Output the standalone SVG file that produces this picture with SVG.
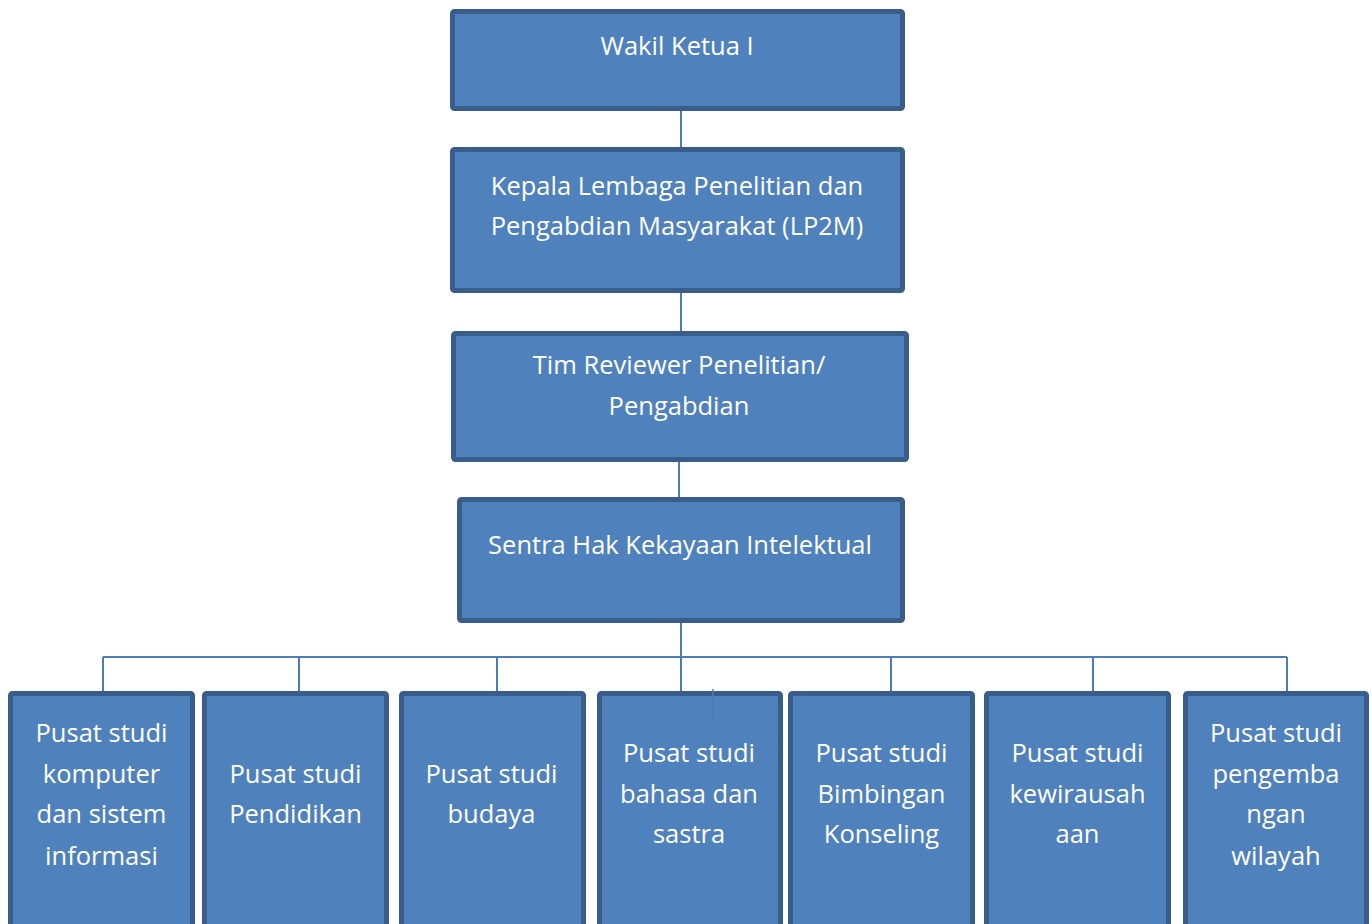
<svg xmlns="http://www.w3.org/2000/svg" width="1372" height="924" viewBox="0 0 1372 924">
<style>
.box{fill:#4F81BD;stroke:#385D8A;stroke-width:5}
.t{font-family:"Open Sans","Liberation Sans",sans-serif;font-size:25.5px;fill:#FFFFFF;text-anchor:middle}
.c{stroke:#4A7EBB;stroke-width:2;fill:none}
.s{stroke:#4A7EBB;stroke-width:1.5;fill:none}
</style>
<rect width="1372" height="924" fill="#FFFFFF"/>
<g id="connectors">
<line class="c" x1="681" y1="111" x2="681" y2="147"/>
<line class="c" x1="681" y1="293" x2="681" y2="331"/>
<line class="c" x1="679" y1="462" x2="679" y2="497"/>
<line class="c" x1="681" y1="623" x2="681" y2="691"/>
<line class="c" x1="103" y1="657" x2="1287" y2="657"/>
<line class="c" x1="103" y1="657" x2="103" y2="691"/>
<line class="c" x1="299" y1="657" x2="299" y2="691"/>
<line class="c" x1="497" y1="657" x2="497" y2="691"/>
<line class="c" x1="891" y1="657" x2="891" y2="691"/>
<line class="c" x1="1093" y1="657" x2="1093" y2="691"/>
<line class="c" x1="1287" y1="657" x2="1287" y2="691"/>
</g>
<g id="n1"><rect class="box" x="452.5" y="11.5" width="450" height="97" rx="2"/>
<text class="t" x="677" y="55">Wakil Ketua I</text></g>
<g id="n2"><rect class="box" x="452.5" y="149.5" width="450" height="141" rx="2"/>
<text class="t" x="677" y="195">Kepala Lembaga Penelitian dan</text>
<text class="t" x="677" y="235">Pengabdian Masyarakat (LP2M)</text></g>
<g id="n3"><rect class="box" x="453.5" y="333.5" width="453" height="126" rx="2"/>
<text class="t" x="679" y="374">Tim Reviewer Penelitian/</text>
<text class="t" x="679" y="415">Pengabdian</text></g>
<g id="n4"><rect class="box" x="459.5" y="499.5" width="443" height="121" rx="2"/>
<text class="t" x="680" y="554">Sentra Hak Kekayaan Intelektual</text></g>
<g id="p1"><rect class="box" x="10.5" y="693.5" width="182" height="240" rx="2"/>
<text class="t" x="101.5" y="742">Pusat studi</text>
<text class="t" x="101.5" y="783">komputer</text>
<text class="t" x="101.5" y="823">dan sistem</text>
<text class="t" x="101.5" y="865">informasi</text></g>
<g id="p2"><rect class="box" x="204.5" y="693.5" width="182" height="240" rx="2"/>
<text class="t" x="295.5" y="783">Pusat studi</text>
<text class="t" x="295.5" y="823">Pendidikan</text></g>
<g id="p3"><rect class="box" x="401.5" y="693.5" width="182" height="240" rx="2"/>
<text class="t" x="491.5" y="783">Pusat studi</text>
<text class="t" x="491.5" y="823">budaya</text></g>
<g id="p4"><rect class="box" x="599.5" y="693.5" width="181" height="240" rx="2"/>
<text class="t" x="689" y="762">Pusat studi</text>
<text class="t" x="689" y="803">bahasa dan</text>
<text class="t" x="689" y="843">sastra</text></g>
<g id="p5"><rect class="box" x="790.5" y="693.5" width="182" height="240" rx="2"/>
<text class="t" x="881.5" y="762">Pusat studi</text>
<text class="t" x="881.5" y="803">Bimbingan</text>
<text class="t" x="881.5" y="843">Konseling</text></g>
<g id="p6"><rect class="box" x="986.5" y="693.5" width="182" height="240" rx="2"/>
<text class="t" x="1077.5" y="762">Pusat studi</text>
<text class="t" x="1077.5" y="803">kewirausah</text>
<text class="t" x="1077.5" y="843">aan</text></g>
<g id="p7"><rect class="box" x="1185.5" y="693.5" width="181" height="240" rx="2"/>
<text class="t" x="1276" y="742">Pusat studi</text>
<text class="t" x="1276" y="783">pengemba</text>
<text class="t" x="1276" y="823">ngan</text>
<text class="t" x="1276" y="865">wilayah</text></g>
<g id="stray">
<line class="s" x1="713" y1="689" x2="713" y2="720"/>
<line class="s" x1="561" y1="722" x2="561" y2="753" stroke-opacity="0.6"/>
</g>
</svg>
